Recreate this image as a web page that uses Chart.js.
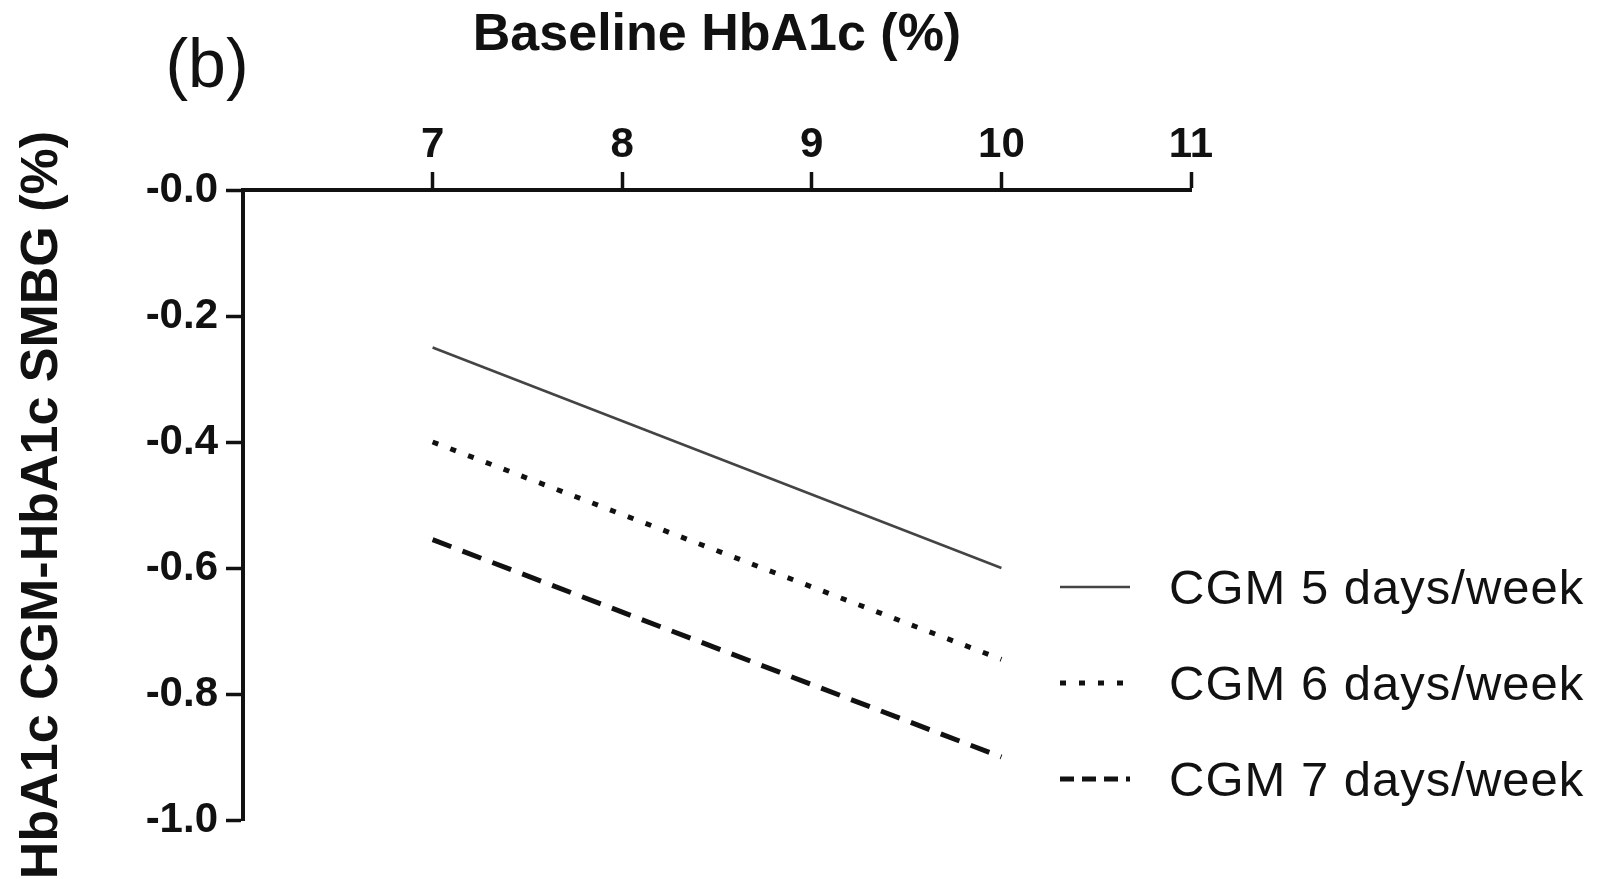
<!DOCTYPE html>
<html>
<head>
<meta charset="utf-8">
<title>Baseline HbA1c</title>
<script src="https://cdn.jsdelivr.net/npm/chart.js@4.4.1/dist/chart.umd.min.js"></script>
<style>
    html, body { margin: 0; padding: 0; background: #ffffff; }
    #wrap { width: 1606px; height: 879px; }
</style>
</head>
<body>
<div id="wrap"><canvas id="hba1cChart" width="1606" height="879"></canvas></div>
<script>
// baseline HbA1c (%) at the two ends of each fitted line
var baselineHbA1c = [7, 10];

// difference HbA1c CGM - HbA1c SMBG (%)
var cgm5days = [-0.25, -0.60];
var cgm6days = [-0.40, -0.745];
var cgm7days = [-0.555, -0.90];

var seriesLabels = ["CGM 5 days/week", "CGM 6 days/week", "CGM 7 days/week"];

var xTicks = [7, 8, 9, 10, 11];
var yTicks = [0, -0.2, -0.4, -0.6, -0.8, -1.0];

var FONT = "'Liberation Sans', Arial, Helvetica, sans-serif";
var INK = "#111111";

function toPoints(xs, ys) {
    return xs.map(function (x, i) { return { x: x, y: ys[i] }; });
}

// panel letter and the legend at the lower right
var extrasPlugin = {
    id: "extras",
    afterDraw: function (chart) {
        var ctx = chart.ctx;
        ctx.save();
        ctx.fillStyle = INK;
        ctx.font = "68px " + FONT;
        ctx.textAlign = "center";
        ctx.textBaseline = "middle";
        ctx.fillText("(b)", 207, 68);

        var rows = [590, 686, 782];
        chart.data.datasets.forEach(function (ds, i) {
            var y = rows[i];
            ctx.save();
            ctx.strokeStyle = ds.borderColor;
            ctx.lineWidth = ds.borderWidth;
            ctx.setLineDash(ds.legendDash || []);
            ctx.beginPath();
            ctx.moveTo(1060, y - 3);
            ctx.lineTo(1130, y - 3);
            ctx.stroke();
            ctx.restore();

            ctx.fillStyle = INK;
            ctx.font = "49px " + FONT;
            ctx.textAlign = "left";
            ctx.textBaseline = "middle";
            if ("letterSpacing" in ctx) ctx.letterSpacing = "1px";
            ctx.fillText(ds.label, 1169, y);
            if ("letterSpacing" in ctx) ctx.letterSpacing = "0px";
        });
        ctx.restore();
    }
};

var ctx = document.getElementById("hba1cChart").getContext("2d");

var chart = new Chart(ctx, {
    type: "line",
    data: {
        datasets: [
            {
                label: seriesLabels[0],
                data: toPoints(baselineHbA1c, cgm5days),
                borderColor: "#444444",
                borderWidth: 2.5,
                borderDash: [],
                legendDash: []
            },
            {
                label: seriesLabels[1],
                data: toPoints(baselineHbA1c, cgm6days),
                borderColor: "#111111",
                borderWidth: 5,
                borderDash: [6, 13],
                legendDash: [6, 13]
            },
            {
                label: seriesLabels[2],
                data: toPoints(baselineHbA1c, cgm7days),
                borderColor: "#111111",
                borderWidth: 5,
                borderDash: [20, 12],
                legendDash: [14, 8]
            }
        ]
    },
    options: {
        responsive: false,
        animation: false,
        events: [],
        layout: {
            padding: { left: 0, top: 0, right: 415, bottom: 59 }
        },
        elements: {
            point: { radius: 0 },
            line: { tension: 0, borderCapStyle: "butt" }
        },
        plugins: {
            legend: { display: false },
            title: { display: false },
            tooltip: { enabled: false }
        },
        scales: {
            x: {
                type: "linear",
                position: "top",
                min: 6,
                max: 11,
                afterFit: function (scale) { scale.height = 190; },
                afterBuildTicks: function (scale) {
                    scale.ticks = [6].concat(xTicks).map(function (v) { return { value: v }; });
                },
                ticks: {
                    color: INK,
                    padding: 1,
                    maxRotation: 0,
                    font: { family: FONT, size: 42, weight: "bold" },
                    callback: function (v) { return v === 6 ? "" : String(v); }
                },
                grid: {
                    drawOnChartArea: false,
                    drawTicks: true,
                    tickLength: 18,
                    tickWidth: 3.5,
                    tickColor: function (c) { return c.tick && c.tick.value === 6 ? "rgba(0,0,0,0)" : INK; }
                },
                border: { display: true, color: INK, width: 4 },
                title: {
                    display: true,
                    text: "Baseline HbA1c (%)",
                    color: INK,
                    padding: { top: 4, bottom: 0 },
                    font: { family: FONT, size: 52, weight: "bold" }
                }
            },
            y: {
                type: "linear",
                min: -1,
                max: 0,
                afterFit: function (scale) { scale.width = 243; },
                afterBuildTicks: function (scale) {
                    scale.ticks = yTicks.map(function (v) { return { value: v }; });
                },
                ticks: {
                    color: INK,
                    padding: 8,
                    font: { family: FONT, size: 42, weight: "bold" },
                    callback: function (v) { return v === 0 ? "-0.0" : Number(v).toFixed(1); }
                },
                grid: {
                    drawOnChartArea: false,
                    drawTicks: true,
                    tickLength: 17,
                    tickWidth: 3.5,
                    tickColor: INK
                },
                border: { display: true, color: INK, width: 4 },
                title: {
                    display: true,
                    text: "HbA1c CGM-HbA1c SMBG (%)",
                    color: INK,
                    padding: { top: 11, bottom: 0 },
                    font: { family: FONT, size: 52, weight: "bold" }
                }
            }
        }
    },
    plugins: [extrasPlugin]
});
</script>
</body>
</html>
